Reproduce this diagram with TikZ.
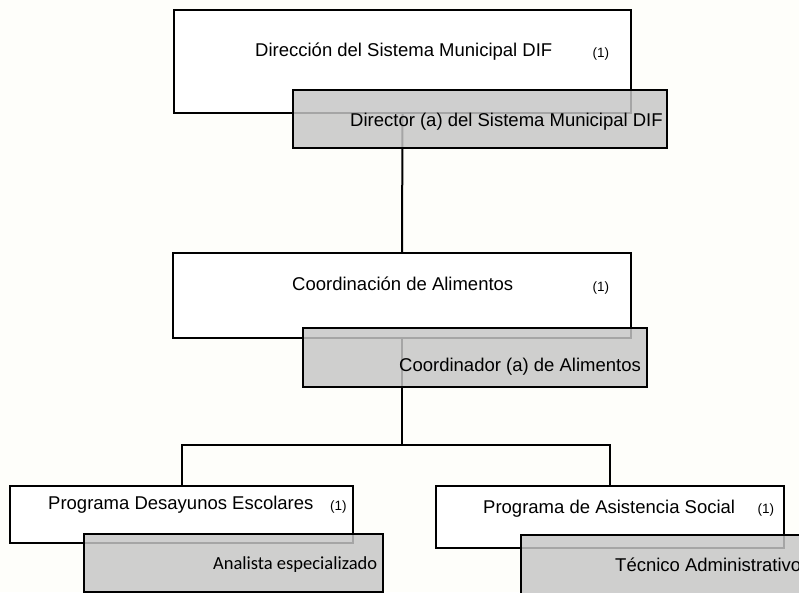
\documentclass[tikz,border=0pt]{standalone}
\usepackage{fontspec}
\setmainfont{Liberation Sans}
\newfontfamily\calfont{Carlito}
\definecolor{bgc}{RGB}{254,254,250}
\definecolor{boxgray}{RGB}{198,198,198}
\begin{document}
\begin{tikzpicture}[x=1pt,y=-1pt,
  whitebox/.style={draw=black, line width=2pt, fill=white, rectangle, inner sep=0pt},
  graybox/.style={draw=black, line width=2pt, fill=boxgray, fill opacity=0.835, draw opacity=1, rectangle, inner sep=0pt},
  conn/.style={draw=black, line width=2pt},
  lbl/.style={anchor=base west, inner sep=0pt, font=\fontsize{18.5}{20}\selectfont},
  num/.style={anchor=base west, inner sep=0pt, font=\fontsize{13.5}{15}\selectfont}]
\fill[bgc] (0,0) rectangle (799,592);
\useasboundingbox (0,0) rectangle (799,592);
\begin{scope}
\clip (0,0) rectangle (799,592);
% white boxes
\node[whitebox, minimum width=457pt, minimum height=103pt] (dir) at (402.5,61.5) {};
\node[whitebox, minimum width=458pt, minimum height=85pt] (coo) at (402,295.5) {};
\node[whitebox, minimum width=343pt, minimum height=57pt] (des) at (181.5,514.5) {};
\node[whitebox, minimum width=348pt, minimum height=62pt] (asi) at (610,517) {};
% connectors
\coordinate (j) at (402,445);
\draw[conn] (dir.south) -- (coo.north);
\draw[conn] (coo.south) -- (j);
\draw[conn] (des.north) |- (j) -| (asi.north);
% gray boxes
\node[graybox, minimum width=374pt, minimum height=58pt] (dirG) at (480,119) {};
\node[graybox, minimum width=344pt, minimum height=59pt] (cooG) at (475,357.5) {};
\node[graybox, minimum width=299pt, minimum height=58pt] (desG) at (233.5,563) {};
\node[graybox, minimum width=309pt, minimum height=75pt] (asiG) at (675.5,572.5) {};
% texts
\node[lbl] (t1) at (255,56.5) {Dirección del Sistema Municipal DIF};
\node[num] (n1) at (592.5,57.5) {(1)};
\node[lbl] (t2) at (350,126) {Director (a) del Sistema Municipal DIF};
\node[lbl] (t3) at (292,290) {Coordinación de Alimentos};
\node[num] (n3) at (592.5,291) {(1)};
\node[lbl] (t4) at (399,371) {Coordinador (a) de Alimentos};
\node[lbl] (t5) at (48,509.5) {Programa Desayunos Escolares};
\node[num] (n5) at (330,510) {(1)};
\node[lbl, font=\calfont\fontsize{18.5}{20}\selectfont] (t6) at (213,569.5) {Analista especializado};
\node[lbl] (t7) at (483,513) {Programa de Asistencia Social};
\node[num] (n7) at (757.5,513) {(1)};
\node[lbl] (t8) at (615,571.7) {Técnico Administrativo};
\end{scope}
\end{tikzpicture}
\end{document}
